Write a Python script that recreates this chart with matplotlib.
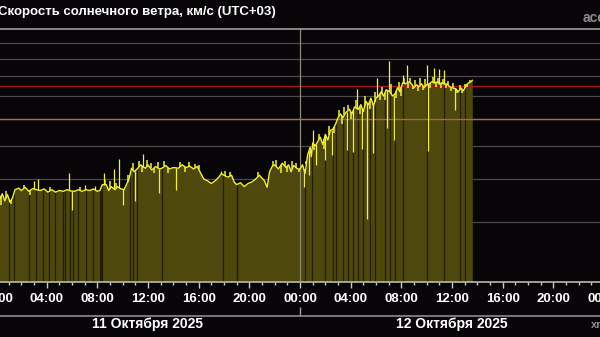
import numpy as np
import matplotlib
matplotlib.use("Agg")
import matplotlib.pyplot as plt
from matplotlib.lines import Line2D
from matplotlib.ticker import NullLocator

# solar wind speed, km/s, hours since 11 Oct 2025 00:00 (UTC+03)
day1_hours = [0.0, 0.3, 0.5, 0.7, 0.9, 1.1, 1.3, 1.5, 1.8, 2.0, 2.3, 2.6, 2.9, 3.2, 3.5,
              3.8, 4.1, 4.4, 4.7, 5.0, 5.3, 5.6, 5.9, 6.2, 6.5, 6.8, 7.1, 7.4, 7.7, 8.0,
              8.2, 8.4, 8.7, 8.9, 9.1, 9.4, 9.6, 9.8, 10.1, 10.3, 10.5, 10.7, 10.9, 11.2,
              11.4, 11.8, 12.0, 12.3, 12.6, 12.9, 13.1, 13.4, 13.7, 14.0, 14.4, 14.7,
              15.0, 15.3, 15.6, 15.9, 16.1, 16.4, 16.7, 17.0, 17.3, 17.6, 17.8, 18.0,
              18.3, 18.6, 18.8, 19.0, 19.3, 19.6, 19.9, 20.2, 20.5, 20.8, 21.0, 21.2,
              21.4, 21.6, 21.8, 22.0, 22.3, 22.6, 22.9, 23.1, 23.3, 23.5, 23.8]
day1_speed = [355, 350, 362, 345, 360, 342, 352, 372, 376, 370, 378, 368, 375, 372, 370,
              374, 366, 372, 366, 370, 368, 372, 369, 368, 372, 368, 372, 370, 374, 368,
              370, 385, 385, 370, 380, 372, 380, 375, 372, 385, 400, 430, 420, 430,
              440, 430, 440, 425, 435, 428, 430, 438, 428, 432, 430, 440,
              432, 436, 428, 435, 420, 400, 395, 388, 395, 405, 415, 410,
              405, 410, 392, 385, 390, 380, 388, 392, 400, 410, 402, 395,
              378, 420, 435, 440, 428, 445, 432, 440, 420, 438, 428]

day2_hours = [24.0, 24.2, 24.4, 24.6, 24.8, 24.9, 25.0, 25.2, 25.4, 25.6, 25.8, 26.0, 26.2,
              26.4, 26.6, 26.8, 27.0, 27.2, 27.4, 27.6, 27.9, 28.1, 28.3, 28.6, 28.8,
              29.0, 29.2, 29.4, 29.6, 29.8, 30.0, 30.2, 30.4, 30.6, 30.8, 31.1, 31.3,
              31.5, 31.7, 31.9, 32.1, 32.3, 32.6, 32.8, 33.0, 33.2, 33.4, 33.6, 33.8,
              34.0, 34.2, 34.4, 34.6, 34.8, 35.0, 35.2, 35.4, 35.6, 35.8, 36.0, 36.3,
              36.5, 36.7, 36.9, 37.1, 37.3, 37.5, 37.6]
day2_speed = [428, 440, 415, 470, 495, 465, 510, 500, 515, 530, 505, 540, 520,
              555, 560, 578, 605, 620, 605, 625, 640, 620, 650, 640, 660,
              630, 675, 660, 690, 655, 690, 700, 720, 700, 730, 720, 700,
              710, 740, 720, 765, 760, 770, 760, 740, 755, 745, 760, 740,
              755, 760, 770, 765, 770, 760, 765, 758, 760, 745, 740, 735,
              720, 740, 725, 750, 765, 770, 778]

# single-sample spikes (large ones)
spike_hours = [3.0, 3.3, 5.75, 6.0, 7.0, 7.8, 8.5, 9.3, 9.7, 10.0, 11.0, 11.6, 12.9,
               14.2, 17.8, 24.3, 24.7, 25.0, 25.3, 26.0, 26.5, 27.7, 28.2, 28.5, 28.9,
               29.3, 29.75, 30.1, 30.9, 31.0, 31.4, 32.1, 32.45, 34.0, 34.1, 34.6,
               35.0, 35.4, 36.2]
spike_speed = [395, 400, 417, 325, 385, 382, 415, 428, 458, 335, 345, 472, 365,
               372, 421, 380, 410, 555, 440, 455, 470, 485, 480, 735, 490,
               305, 478, 792, 565, 885, 520, 808, 865, 865, 482, 848,
               840, 832, 637]

# short jitter samples
jitter_hours = [0.4, 0.8, 1.2, 2.2, 2.7, 4.3, 6.6, 8.6, 9.0, 9.5, 10.4, 10.8, 11.3, 11.5,
                11.9, 12.2, 12.5, 12.8, 13.3, 13.6, 14.5, 14.9, 15.2, 15.7, 16.0, 18.1,
                18.5, 20.7, 21.9, 22.1, 22.5, 22.8, 23.0, 23.4, 23.7, 23.9,
                24.5, 25.1, 25.5, 25.9, 26.3, 26.7, 27.1, 27.3, 27.5, 27.8, 28.0, 28.4,
                28.7, 29.1, 29.5, 29.9, 30.3, 30.5, 30.7, 31.2, 31.6, 31.8, 32.0, 32.2,
                32.5, 32.7, 32.9, 33.1, 33.3, 33.5, 33.7, 33.9, 34.3, 34.5, 34.7, 34.9,
                35.1, 35.3, 35.5, 35.7, 35.9, 36.1, 36.4, 36.6, 36.8, 37.0, 37.2, 37.4]
jitter_speed = [335, 368, 338, 385, 360, 380, 380, 398, 395, 390, 410, 445, 450, 420,
                455, 445, 415, 448, 450, 415, 448, 420, 448, 442, 440, 422,
                418, 418, 450, 455, 415, 452, 418, 450, 445, 418,
                450, 485, 540, 490, 570, 545, 635, 580, 650, 660, 600, 680,
                620, 700, 640, 720, 680, 745, 680, 760, 690, 770, 700, 790,
                740, 790, 735, 780, 725, 790, 730, 785, 740, 795, 745, 790,
                740, 785, 740, 775, 725, 765, 715, 755, 712, 760, 745, 780]

# missing samples
gap_hours = [1.03, 1.42, 2.6, 3.16, 3.71, 4.18, 4.66, 5.29, 5.45, 5.84, 6.08, 6.47, 7.1,
             7.66, 8.21, 8.3, 8.37, 10.58, 10.82, 11.13, 13.1, 17.92, 19.0, 19.05,
             24.39, 24.94, 25.97, 26.6, 26.84, 27.39, 27.78, 28.18, 28.57, 28.97,
             29.52, 29.91, 30.7, 31.1, 31.5, 32.12, 34.02, 35.36, 36.62, 37.02]

tick_hours = list(range(0, 49, 4))
tick_labels = ["%02d:00" % (h % 24) for h in tick_hours]
day_labels = ["11 Октября 2025", "12 Октября 2025"]
grid_speed = [300, 400, 500, 600, 700, 800, 900, 1000]
limit_speed = [600, 750]
limit_colors = ["#9c6c4c", "#a8161e"]

bg = "#080509"
yellow = "#f2f032"
hours = np.array(day1_hours + day2_hours)
speed = np.array(day1_speed + day2_speed)

plt.rcParams["font.family"] = ["Liberation Sans", "DejaVu Sans"]
fig = plt.figure(figsize=(6, 3.37), dpi=100, facecolor=bg)
ax = fig.add_axes([-4 / 600, 1 - 281.7 / 337, 608 / 600, 252.7 / 337], facecolor=bg)

ax.set_yscale("log")
ax.set_ylim(200, 1100)
ax.set_xlim(0, 48)
ax.set_yticks(grid_speed)
ax.yaxis.set_minor_locator(NullLocator())
ax.tick_params(axis="y", left=False, labelleft=False)
ax.grid(axis="y", color="#4a4a4e", lw=0.9, zorder=0)
ax.set_axisbelow(True)

ax.fill_between(hours, 200, speed, color="#4e480c", lw=0, zorder=1.5)
ax.vlines(gap_hours, 200, np.interp(gap_hours, hours, speed), color="#221e06", lw=0.9, zorder=1.6)
for s, c in zip(limit_speed, limit_colors):
    ax.axhline(s, color=c, lw=1.0, zorder=2)
ax.axvline(24, color="#8a8a78", lw=0.9, zorder=2.2)
ax.plot(hours, speed, color=yellow, lw=1.0, zorder=3)
ax.vlines(spike_hours, np.interp(spike_hours, hours, speed), spike_speed,
          color=yellow, lw=0.9, zorder=3)
ax.vlines(jitter_hours, np.interp(jitter_hours, hours, speed), jitter_speed,
          color=yellow, lw=1.1, zorder=3)

for side in ["left", "right"]:
    ax.spines[side].set_visible(False)
ax.spines["top"].set_color("#9c9c9c")
ax.spines["bottom"].set_color("#b8b8b0")
ax.spines["top"].set_linewidth(1.2)
ax.spines["bottom"].set_linewidth(1.2)

ax.set_xticks(tick_hours)
ax.set_xticklabels(tick_labels, color="white", fontsize=9.5, fontweight="bold")
ax.set_xticks(range(0, 49), minor=True)
ax.tick_params(axis="x", which="major", length=4.5, width=1, color="#c8c8c8", pad=3.5)
ax.tick_params(axis="x", which="minor", length=2.5, width=1, color="#c8c8c8")

tr = ax.get_xaxis_transform()
for i, lab in enumerate(day_labels):
    ax.text(12 + 24 * i, -0.167, lab, transform=tr, ha="center", va="center",
            color="white", fontsize=10, fontweight="bold", clip_on=False)
ax.vlines([24, 48], -0.136, -0.100, transform=tr, color="#a0a0a0", lw=1, clip_on=False)
fig.add_artist(Line2D([0, 1], [1 - 315.7 / 337] * 2, color="#8c8c8c", lw=1.2))

fig.text(-2 / 600, 1 - 11.5 / 337, "Скорость солнечного ветра, км/с (UTC+03)",
         color="white", fontsize=9.5, fontweight="bold", va="center", ha="left")
fig.text(583 / 600, 1 - 17.5 / 337, "ace", color="#8c8c8c", fontsize=10,
         fontweight="bold", va="center", ha="left")
fig.text(591 / 600, 1 - 325 / 337, "xras.ru", color="#8c8c8c", fontsize=8,
         fontweight="bold", va="center", ha="left")

fig.savefig("out.png", dpi=100, facecolor=bg)
